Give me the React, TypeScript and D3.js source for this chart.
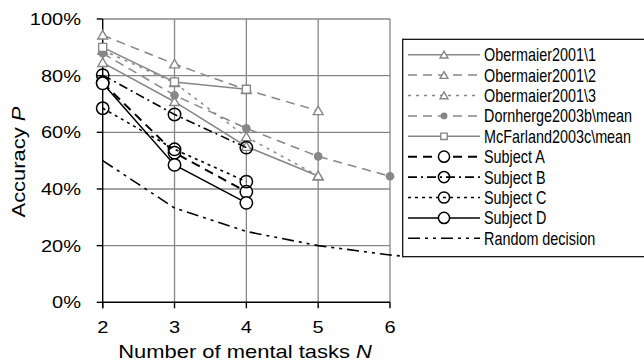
import React from "react";
import * as d3 from "d3";

// number of mental tasks N (x) and accuracy P in % (y)
const tasks = [2, 3, 4, 5, 6];
const yTicks = [0, 20, 40, 60, 80, 100];

// values start at N = 2
const obermaier1 = [84.6, 70.8, 55.0, 44.6];
const obermaier2 = [94.3, 84.1, 75.0, 67.6];
const obermaier3 = [89.0, 77.5, 58.4, 44.6];
const dornherge = [87.9, 73.1, 61.4, 51.5, 44.5];
const mcfarland = [90.0, 77.8, 75.2];
const subjectA = [77.5, 52.8, 39.0];
const subjectB = [80.2, 66.3, 54.6];
const subjectC = [68.5, 54.0, 42.6];
const subjectD = [77.3, 48.5, 35.1];
const randomDecision = [50, 33.3, 25, 20, 16.7, 14.3];

const GRAY = "#878787";
const FONT = "'Liberation Sans', Arial, sans-serif";

type Marker = "triangle" | "square" | "dot" | "circle" | "none";
type Series = {
  name: string;
  values: number[];
  color: string;
  dash: string | null;
  width: number;
  marker: Marker;
  fill: string;
};

const series: Series[] = [
  { name: "Obermaier2001\\1", values: obermaier1, color: GRAY, dash: null, width: 1.5, marker: "triangle", fill: "#fff" },
  { name: "Obermaier2001\\2", values: obermaier2, color: GRAY, dash: "9,6", width: 1.5, marker: "triangle", fill: "#fff" },
  { name: "Obermaier2001\\3", values: obermaier3, color: GRAY, dash: "3,5", width: 1.5, marker: "triangle", fill: "#fff" },
  { name: "Dornherge2003b\\mean", values: dornherge, color: GRAY, dash: "9,6", width: 1.5, marker: "dot", fill: GRAY },
  { name: "McFarland2003c\\mean", values: mcfarland, color: GRAY, dash: null, width: 1.5, marker: "square", fill: "#fff" },
  { name: "Subject A", values: subjectA, color: "#000", dash: "9,6", width: 2, marker: "circle", fill: "#fff" },
  { name: "Subject B", values: subjectB, color: "#000", dash: "9,4,2,4", width: 1.6, marker: "circle", fill: "none" },
  { name: "Subject C", values: subjectC, color: "#000", dash: "3,4", width: 1.6, marker: "circle", fill: "none" },
  { name: "Subject D", values: subjectD, color: "#000", dash: null, width: 1.5, marker: "circle", fill: "#fff" },
  { name: "Random decision", values: randomDecision, color: "#000", dash: "12,5,3,5,3,5", width: 1.6, marker: "none", fill: "none" },
];

function MarkerShape({ type, x, y, color, fill, small }: { type: Marker; x: number; y: number; color: string; fill: string; small?: boolean }) {
  const k = small ? 0.8 : 1;
  if (type === "triangle") {
    const d = d3.symbol(d3.symbolTriangle, 42 * k * k)() as string;
    return <path d={d} transform={`translate(${x},${y + 1})`} fill={fill} stroke={color} strokeWidth={1.4} />;
  }
  if (type === "square") {
    const d = d3.symbol(d3.symbolSquare, 64 * k * k)() as string;
    return <path d={d} transform={`translate(${x},${y})`} fill={fill} stroke={color} strokeWidth={1.4} />;
  }
  if (type === "dot") return <circle cx={x} cy={y} r={4.3 * k} fill={color} />;
  if (type === "circle") return <circle cx={x} cy={y} r={6.2 * (small ? 0.9 : 1)} fill={fill} stroke={color} strokeWidth={1.5} />;
  return null;
}

function SText({ x, y, sx, anchor, size, children }: { x: number; y: number; sx: number; anchor: string; size: number; children: React.ReactNode }) {
  return (
    <text transform={`translate(${x},${y}) scale(${sx},1)`} textAnchor={anchor} fontSize={size} fontFamily={FONT} fill="#000">
      {children}
    </text>
  );
}

export default function App() {
  const x = d3.scaleLinear().domain([2, 6]).range([102.7, 390]);
  const y = d3.scaleLinear().domain([0, 100]).range([302.3, 19]);

  const legend = { x: 402.7, y: 39.3, w: 260, h: 217.4, row0: 54.7, rowH: 20.4 };

  const line = d3
    .line<number>()
    .x((_, i) => x(tasks[0] + i))
    .y((v) => y(v));

  return (
    <svg width={644} height={364} style={{ position: "absolute", left: 0, top: 0, background: "#fff" }}>
      <defs>
        <clipPath id="plotClip">
          <rect x={0} y={0} width={legend.x} height={364} />
        </clipPath>
      </defs>

      {/* grid */}
      {yTicks.filter((t) => t > 0).map((t) => (
        <line key={"gy" + t} x1={x(2)} x2={x(6)} y1={y(t)} y2={y(t)} stroke={GRAY} strokeWidth={1.3} />
      ))}
      {tasks.filter((t) => t > 2).map((t) => (
        <line key={"gx" + t} x1={x(t)} x2={x(t)} y1={y(100)} y2={y(0)} stroke={GRAY} strokeWidth={1.3} />
      ))}

      {/* axes */}
      <line x1={x(2)} x2={x(2)} y1={y(100)} y2={y(0) + 6} stroke="#000" strokeWidth={1.4} />
      <line x1={x(2)} x2={x(6)} y1={y(0)} y2={y(0)} stroke="#000" strokeWidth={1.4} />
      {yTicks.map((t) => (
        <line key={"ty" + t} x1={x(2) - 6} x2={x(2)} y1={y(t)} y2={y(t)} stroke="#000" strokeWidth={1.4} />
      ))}
      {tasks.map((t) => (
        <line key={"tx" + t} x1={x(t)} x2={x(t)} y1={y(0)} y2={y(0) + 6} stroke="#000" strokeWidth={1.4} />
      ))}
      {yTicks.map((t) => (
        <SText key={"ly" + t} x={81} y={y(t) + 6} sx={1.25} anchor="end" size={16}>
          {t + "%"}
        </SText>
      ))}
      {tasks.map((t) => (
        <SText key={"lx" + t} x={x(t)} y={333} sx={1.25} anchor="middle" size={16}>
          {t}
        </SText>
      ))}
      <SText x={245} y={358} sx={1.22} anchor="middle" size={18}>
        Number of mental tasks <tspan fontStyle="italic">N</tspan>
      </SText>
      <g transform="translate(25,162) rotate(-90)">
        <SText x={0} y={0} sx={1.22} anchor="middle" size={18}>
          Accuracy <tspan fontStyle="italic">P</tspan>
        </SText>
      </g>

      {/* series */}
      <g clipPath="url(#plotClip)">
        {series.map((s) => (
          <g key={s.name}>
            <path d={line(s.values) as string} fill="none" stroke={s.color} strokeWidth={s.width} strokeDasharray={s.dash ?? undefined} />
            {s.values.map((v, i) => (
              <MarkerShape key={i} type={s.marker} x={x(tasks[0] + i)} y={y(v)} color={s.color} fill={s.fill} />
            ))}
          </g>
        ))}
      </g>

      {/* legend */}
      <rect x={legend.x} y={legend.y} width={legend.w} height={legend.h} fill="#fff" stroke="#000" strokeWidth={1.2} />
      {series.map((s, i) => {
        const cy = legend.row0 + i * legend.rowH;
        return (
          <g key={"lg" + s.name}>
            <line x1={408} x2={480} y1={cy} y2={cy} stroke={s.color} strokeWidth={s.width} strokeDasharray={s.dash ?? undefined} />
            <MarkerShape type={s.marker} x={444} y={cy} color={s.color} fill={s.fill === "none" ? "none" : s.fill} small />
            <SText x={484} y={cy + 6.5} sx={0.8} anchor="start" size={18}>
              {s.name}
            </SText>
          </g>
        );
      })}
    </svg>
  );
}
